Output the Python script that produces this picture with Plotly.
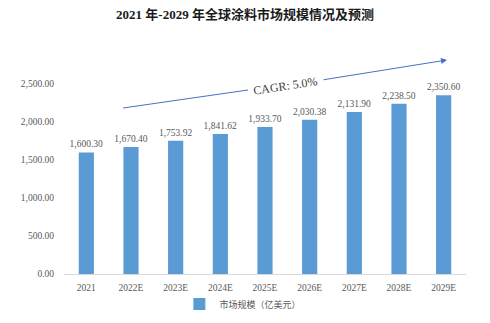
import plotly.graph_objects as go

categories = ["2021", "2022E", "2023E", "2024E", "2025E", "2026E", "2027E", "2028E", "2029E"]
values = [1600.30, 1670.40, 1753.92, 1841.62, 1933.70, 2030.38, 2131.90, 2238.50, 2350.60]
y_ticks = [0, 500, 1000, 1500, 2000, 2500]
series_name = "市场规模（亿美元）"
title_text = "2021 年-2029 年全球涂料市场规模情况及预测"
cagr_text = "CAGR: 5.0%"

W, H = 490, 323
ML, MR, MT, MB = 64, 24, 84, 49
PW, PH = W - ML - MR, H - MT - MB

def px(x):
    return (x - ML) / PW

def py(y):
    return (H - MB - y) / PH

serif = "Liberation Serif, Times New Roman, Noto Sans CJK SC, serif"

fig = go.Figure()
fig.add_trace(go.Bar(
    x=categories, y=values, name=series_name,
    marker=dict(color="#5B9BD5", line=dict(width=0)),
    text=[f"{v:,.2f}" for v in values], textposition="outside",
    constraintext="none",
    textfont=dict(family=serif, size=9.5, color="#595959"),
    cliponaxis=False, showlegend=True,
))

fig.update_layout(
    width=W, height=H,
    margin=dict(l=ML, r=MR, t=MT, b=MB, autoexpand=False),
    paper_bgcolor="white", plot_bgcolor="white",
    bargap=0.66,
    title=dict(text="<b>" + title_text + "</b>", x=0.5, xanchor="center", y=1 - 14 / H, yanchor="middle",
               font=dict(family=serif, size=13, color="#1a1a1a")),
    xaxis=dict(showline=True, linecolor="#D9D9D9", linewidth=1, ticks="", automargin=False,
               ticklabelstandoff=5,
               tickfont=dict(family=serif, size=9.5, color="#595959"), showgrid=False),
    yaxis=dict(range=[0, 2500], tickvals=y_ticks, ticktext=[f"{v:,.2f}" for v in y_ticks],
               showgrid=False, zeroline=False, showline=False, automargin=False,
               ticklabelstandoff=9,
               tickfont=dict(family=serif, size=9.5, color="#595959"), ticklen=0),
    legend=dict(orientation="h", x=0.445, xanchor="center", y=py(304), yanchor="middle",
                bgcolor="rgba(0,0,0,0)",
                font=dict(family="Noto Sans CJK SC", size=9, color="#595959"),
                itemwidth=30, itemsizing="constant"),
    showlegend=True,
)

# CAGR arrow (two segments with a gap for the text)
fig.add_shape(type="line", xref="paper", yref="paper",
              x0=px(123), y0=py(108), x1=px(248), y1=py(90),
              line=dict(color="#4472C4", width=1))
fig.add_annotation(xref="paper", yref="paper", x=px(447), y=py(60), text="",
                   showarrow=True, ax=-(447 - 322), ay=(80 - 60),
                   arrowhead=2, arrowsize=1.2, arrowwidth=1, arrowcolor="#4472C4")
fig.add_annotation(xref="paper", yref="paper", x=px(285), y=py(72), text=cagr_text,
                   showarrow=False, textangle=-8.5,
                   font=dict(family=serif, size=12, color="#404040"))

fig.write_html("out.html")
